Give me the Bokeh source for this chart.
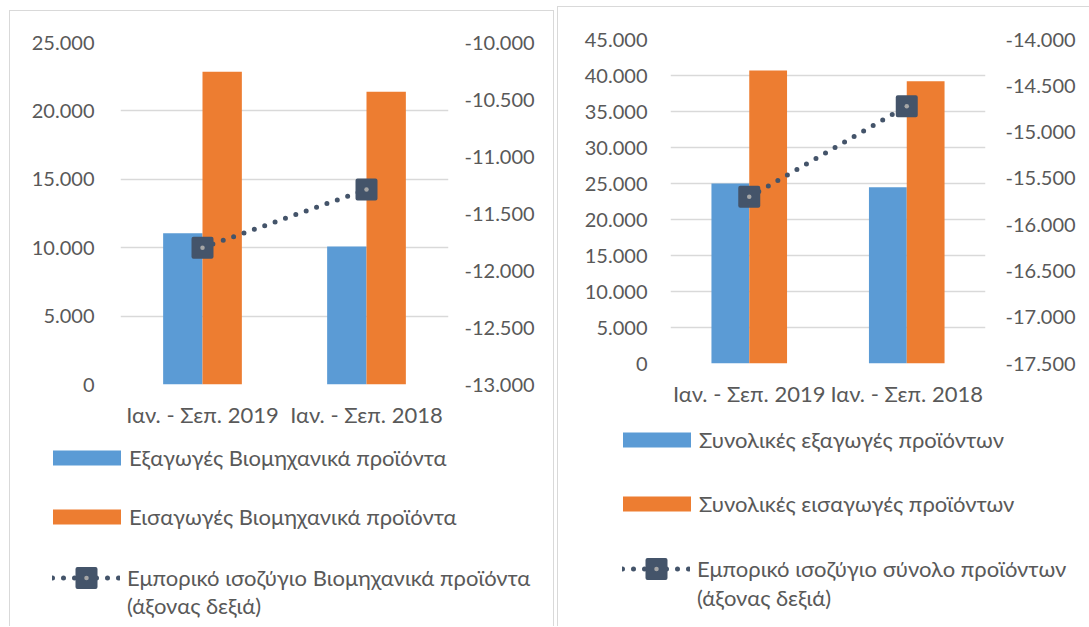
from bokeh.plotting import figure
from bokeh.models import (Range1d, LinearAxis, FactorRange, Legend, LegendItem,
                          CustomJSTickFormatter, SingleIntervalTicker, ColumnDataSource)
from bokeh.transform import dodge
from bokeh.layouts import row, column
from bokeh.embed import file_html
from bokeh.resources import INLINE

periods = ["Ιαν. - Σεπ. 2019", "Ιαν. - Σεπ. 2018"]

ind_exports = [11060, 10090]
ind_imports = [22860, 21400]
ind_balance = [-11800, -11290]

tot_exports = [25000, 24490]
tot_imports = [40690, 39210]
tot_balance = [-15700, -14720]

ind_labels = ["Εξαγωγές Βιομηχανικά προϊόντα",
              "Εισαγωγές Βιομηχανικά προϊόντα",
              "Εμπορικό ισοζύγιο Βιομηχανικά προϊόντα",
              "(άξονας δεξιά)"]
tot_labels = ["Συνολικές εξαγωγές προϊόντων",
              "Συνολικές εισαγωγές προϊόντων",
              "Εμπορικό ισοζύγιο σύνολο προϊόντων",
              "(άξονας δεξιά)"]

FONT = "Lato"
FS_TICK = "20px"
FS_TEXT = "22px"
TXT = "#595959"
BLUE = "#5b9bd5"
ORANGE = "#ed7d31"
DARK = "#44546a"
DOT = "#a6a6a6"
GRID = "#d9d9d9"

FMT_CODE = """
const s = Math.abs(Math.round(tick)).toString().replace(/\\B(?=(\\d{3})+(?!\\d))/g, '.');
return (tick < 0 ? '-' : '') + s;
"""


def style_axis(ax, standoff, size):
    ax.axis_line_color = None
    ax.major_tick_line_color = None
    ax.minor_tick_line_color = None
    ax.major_label_text_font = FONT
    ax.major_label_text_font_size = size
    ax.major_label_text_color = TXT
    ax.major_label_standoff = standoff


def legend_kw(gw, gh, standoff):
    return dict(orientation="vertical", glyph_width=gw, glyph_height=gh,
                label_standoff=standoff, padding=0, margin=0,
                label_text_font=FONT, label_text_font_size=FS_TEXT,
                label_text_color=TXT, border_line_color=None,
                background_fill_alpha=0)


def make_panel(exports, imports, balance, left_lim, left_step, right_lim, right_step,
               labels, g):
    src = ColumnDataSource(dict(cat=periods, exp=exports, imp=imports, bal=balance))
    p = figure(x_range=FactorRange(*periods), y_range=Range1d(*left_lim),
               frame_width=g["fw"], frame_height=g["fh"],
               min_border_left=g["ml"], min_border_right=g["mr"],
               min_border_top=g["mt"], min_border_bottom=g["mb"],
               output_backend="svg", toolbar_location=None,
               background_fill_color="white", border_fill_color="white")
    p.outline_line_color = None
    p.extra_y_ranges = {"bal": Range1d(*right_lim)}

    p.yaxis.ticker = SingleIntervalTicker(interval=left_step)
    p.yaxis.formatter = CustomJSTickFormatter(code=FMT_CODE)
    for ax in p.yaxis:
        style_axis(ax, g["ls"], FS_TICK)

    rax = LinearAxis(y_range_name="bal", ticker=SingleIntervalTicker(interval=right_step),
                     formatter=CustomJSTickFormatter(code=FMT_CODE))
    style_axis(rax, g["rs"], FS_TICK)
    p.add_layout(rax, "right")

    for ax in p.xaxis:
        style_axis(ax, 10, FS_TEXT)

    p.xgrid.grid_line_color = None
    p.ygrid.grid_line_color = GRID
    p.ygrid.grid_line_width = 1.5
    p.ygrid.ticker = SingleIntervalTicker(interval=left_step)

    p.vbar(x=dodge("cat", -0.12, range=p.x_range), top="exp", width=0.24,
           source=src, fill_color=BLUE, line_color=None)
    p.vbar(x=dodge("cat", 0.12, range=p.x_range), top="imp", width=0.24,
           source=src, fill_color=ORANGE, line_color=None)
    p.line(x="cat", y="bal", source=src, y_range_name="bal", line_color=DARK,
           line_width=5, line_dash="0 11", line_cap="round")
    p.scatter(x="cat", y="bal", source=src, y_range_name="bal", marker="square",
              size=18, fill_color=DARK, line_color=DARK, line_width=4,
              line_join="round")
    p.scatter(x="cat", y="bal", source=src, y_range_name="bal", marker="dot",
              size=18, fill_color=DOT, line_color=DOT)

    # legend panel (separate canvas so the legend is not clipped by the chart frame)
    lg = figure(x_range=Range1d(0, 1), y_range=Range1d(0, 1),
                frame_width=g["fw"] + g["ml"] + g["mr"], frame_height=g["lh"],
                min_border=0, output_backend="svg", toolbar_location=None,
                background_fill_color="white", border_fill_color="white")
    lg.outline_line_color = None
    lg.axis.visible = False
    lg.grid.visible = False
    # legend-only proxies, placed outside the visible range
    proxy = ColumnDataSource(dict(x=[-10], y=[-10], top=[-10]))
    d1 = lg.vbar(x="x", top="top", width=0.1, source=proxy, fill_color=BLUE,
                 line_color=None)
    d2 = lg.vbar(x="x", top="top", width=0.1, source=proxy, fill_color=ORANGE,
                 line_color=None)
    d3 = lg.line(x="x", y="y", source=proxy, line_color=DARK, line_width=5,
                 line_dash="0 11", line_cap="round")
    d4 = lg.scatter(x="x", y="y", source=proxy, marker="square", size=18,
                    fill_color=DARK, line_color=DARK, line_width=4, line_join="round")
    d5 = lg.scatter(x="x", y="y", source=proxy, marker="dot", size=18,
                    fill_color=DOT, line_color=DOT)
    d6 = lg.scatter(x="x", y="y", source=proxy, marker="square", size=1,
                    fill_alpha=0, line_alpha=0)
    legA = Legend(items=[LegendItem(label=labels[0], renderers=[d1]),
                         LegendItem(label=labels[1], renderers=[d2])],
                  location=g["locA"], spacing=g["sp"], **legend_kw(85, 19, 0))
    legB = Legend(items=[LegendItem(label=labels[2], renderers=[d3, d4, d5])],
                  location=g["locB"], **legend_kw(68, 45, 7))
    legC = Legend(items=[LegendItem(label=labels[3], renderers=[d6])],
                  location=g["locC"], **legend_kw(68, 16, 7))
    lg.add_layout(legA)
    lg.add_layout(legB)
    lg.add_layout(legC)
    return column(p, lg, spacing=0)


c1 = make_panel(ind_exports, ind_imports, ind_balance, (0, 25000), 5000,
                (-13000, -10000), 500, ind_labels,
                dict(fw=328, fh=342, ml=110, mr=105, mt=31, mb=60, ls=20, rs=10,
                     lh=182, locA=(34, 96), locB=(42, 26), locC=(42, 7), sp=32))
c1.styles = {"border-top": "1px solid #d9d9d9", "border-left": "1px solid #d9d9d9",
             "border-right": "1px solid #d9d9d9"}
c1.margin = (10, 0, 0, 9)

c2 = make_panel(tot_exports, tot_imports, tot_balance, (0, 45000), 5000,
                (-17500, -14000), 500, tot_labels,
                dict(fw=315, fh=324, ml=112, mr=104, mt=32, mb=60, ls=17, rs=14,
                     lh=203, locA=(56, 109), locB=(64, 35), locC=(64, 15), sp=37))
c2.styles = {"border-top": "1px solid #d9d9d9", "border-left": "1px solid #d9d9d9"}
c2.margin = (6, 0, 0, 3)

layout = row(c1, c2)
layout.styles = {"background": "white"}

open("out.html", "w").write(file_html(layout, INLINE))
